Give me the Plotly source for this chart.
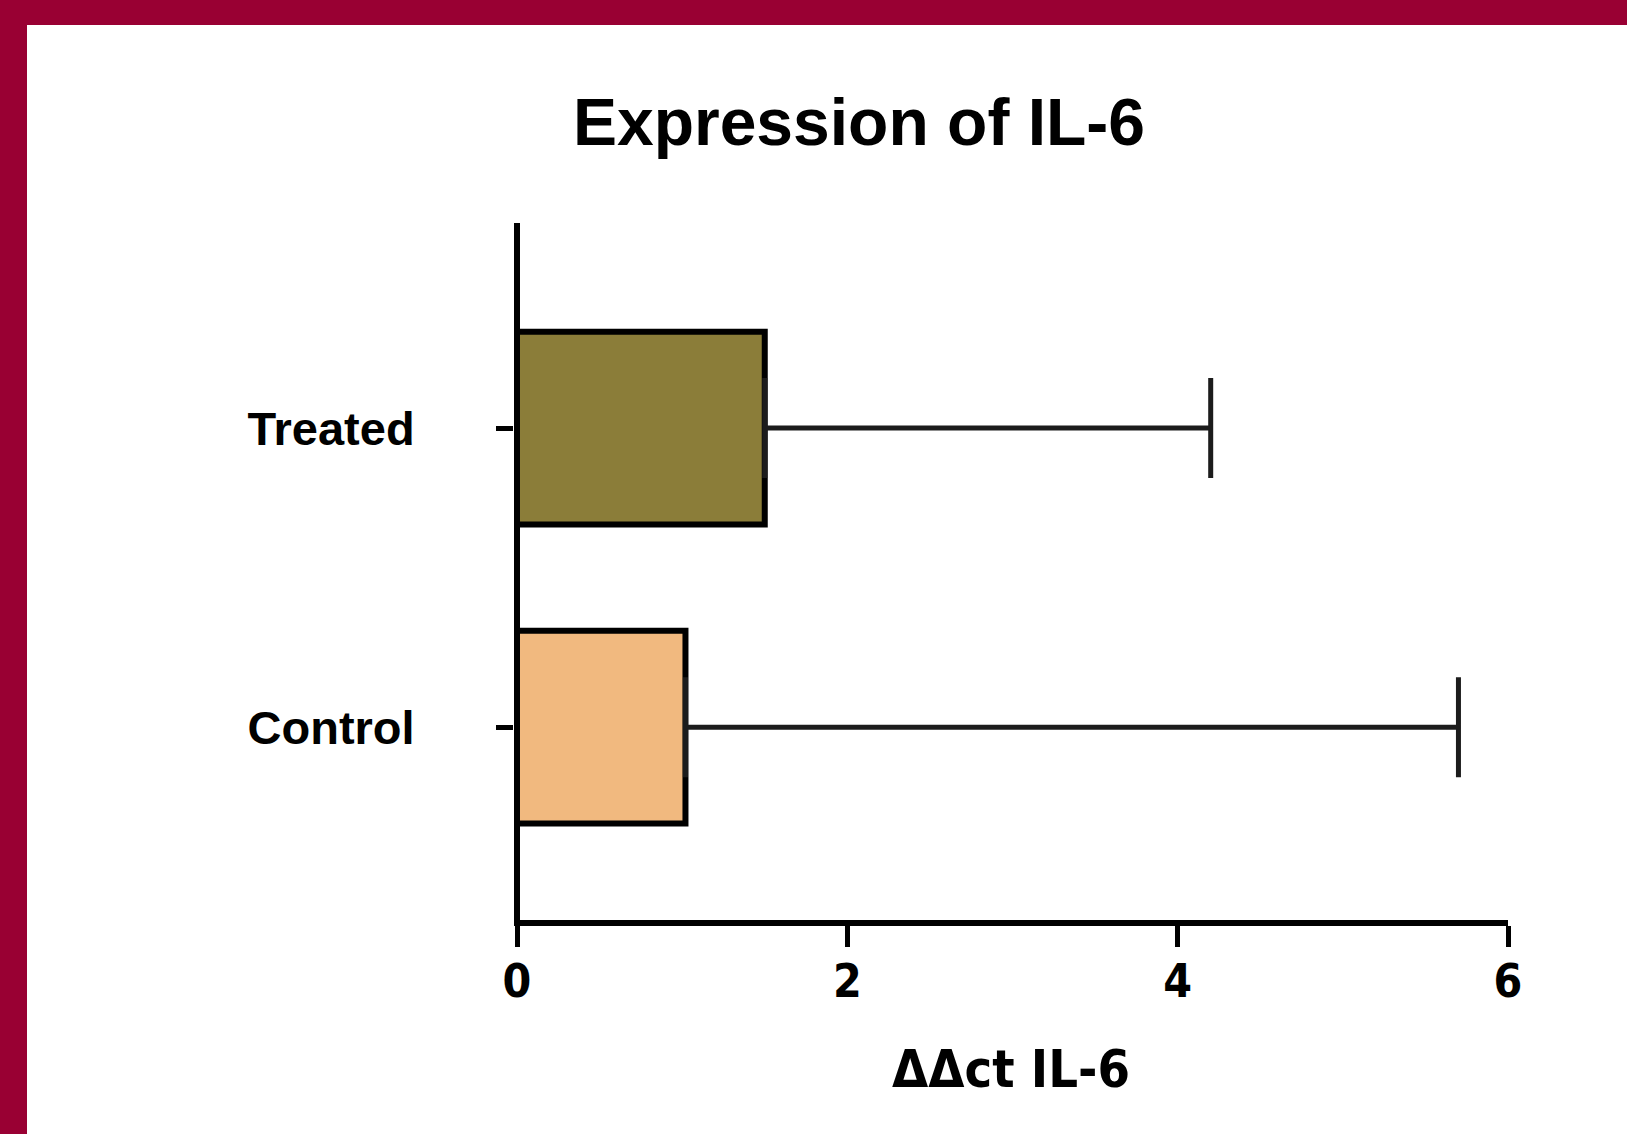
import plotly.graph_objects as go

categories = ["Control", "Treated"]
values = [1.02, 1.50]
errors = [4.68, 2.70]
bar_colors = ["#F1B97F", "#8B7D39"]
x_ticks = [0, 2, 4, 6]

W, H = 1627, 1134
L, R, T, B = 514, 119, 223, 214
pw, ph = W - L - R, H - T - B
x_min = -3 / ((1508 - 517) / 6)

fig = go.Figure()
fig.add_trace(go.Bar(
    y=categories, x=values, orientation="h",
    marker=dict(color=bar_colors, line=dict(color="black", width=6)),
    width=0.645,
    error_x=dict(type="data", array=errors, arrayminus=[0, 0], symmetric=False,
                 color="#1c1c1c", thickness=5, width=50),
    showlegend=False,
))

def px_x(p):
    return (p - L) / pw

def px_y(p):
    return 1 - (p - T) / ph

maroon = "#990033"
fig.add_shape(type="rect", xref="paper", yref="paper",
              x0=px_x(0), x1=px_x(W), y0=px_y(0), y1=px_y(25),
              fillcolor=maroon, line=dict(width=0), layer="below")
fig.add_shape(type="rect", xref="paper", yref="paper",
              x0=px_x(0), x1=px_x(27), y0=px_y(0), y1=px_y(H),
              fillcolor=maroon, line=dict(width=0), layer="below")

narrow = "DejaVu Sans Condensed, Liberation Sans Narrow, Liberation Sans, Arial"

fig.update_layout(
    width=W, height=H,
    margin=dict(l=L, r=R, t=T, b=B, pad=0),
    paper_bgcolor="white", plot_bgcolor="white",
    title=dict(text="<b>Expression of IL-6</b>", x=859 / W, xref="container",
               y=1 - 122 / H, yref="container", xanchor="center", yanchor="middle",
               font=dict(family="Liberation Sans, Arial", size=66, color="black")),
    xaxis=dict(range=[x_min, 6], tickvals=x_ticks, ticktext=[f"<b>{t}</b>" for t in x_ticks],
               showline=True, linecolor="black", linewidth=6,
               ticks="outside", ticklen=21, tickwidth=5, tickcolor="black",
               showgrid=False, zeroline=True, zerolinecolor="black", zerolinewidth=6,
               ticklabelstandoff=-5,
               tickfont=dict(family=narrow, size=46, color="black"),
               title=dict(text="<b>ΔΔct IL-6</b>", standoff=45,
                          font=dict(family=narrow, size=52, color="black"))),
    yaxis=dict(range=[-0.645, 1.686], categoryorder="array", categoryarray=categories,
               ticktext=[f"<b>{c}</b>" for c in categories], tickvals=categories,
               showline=False,
               ticks="outside", ticklen=17, tickwidth=5, tickcolor="black",
               showgrid=False, zeroline=False, ticklabelstandoff=72,
               tickfont=dict(family="Liberation Sans, Arial", size=47, color="black")),
)

fig.write_html("out.html", config={"displayModeBar": False},
               post_script="document.body.style.margin='0';")
